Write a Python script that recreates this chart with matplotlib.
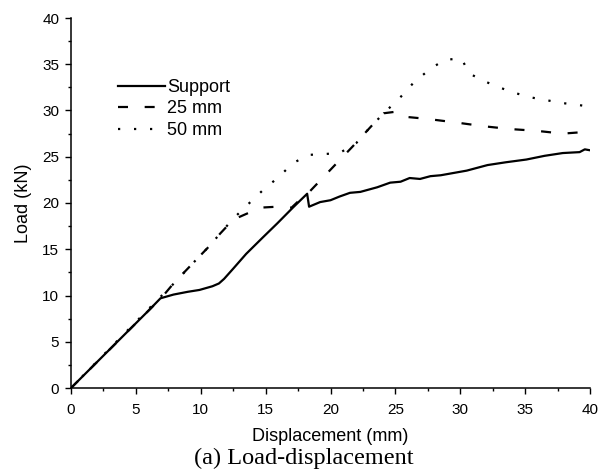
import numpy as np
import matplotlib
matplotlib.use("Agg")
import matplotlib.pyplot as plt
from matplotlib.ticker import MultipleLocator

# Load-displacement readings (mm, kN)
support_x = [0, 1, 2, 3, 4, 5, 6, 6.9, 7.9, 9.0, 9.9, 10.9, 11.4, 11.8, 12.5, 13.5,
             14.8, 15.9, 17.1, 18.2, 18.35, 19.2, 20.0, 20.7, 21.5, 22.3, 23.6, 24.6,
             25.4, 26.1, 26.9, 27.7, 28.5, 30.5, 32.1, 33.5, 35.1, 36.5, 37.9, 39.2,
             39.6, 40]
support_y = [0, 1.4, 2.8, 4.2, 5.6, 7.0, 8.4, 9.7, 10.1, 10.4, 10.6, 11.0, 11.3, 11.8,
             12.9, 14.5, 16.3, 17.8, 19.5, 21.0, 19.6, 20.1, 20.3, 20.7, 21.1, 21.2,
             21.7, 22.2, 22.3, 22.7, 22.6, 22.9, 23.0, 23.5, 24.1, 24.4, 24.7, 25.1,
             25.4, 25.5, 25.8, 25.7]

mm25_x = [0, 7.0, 7.9, 9.4, 10.5, 11.5, 12.5, 13.8, 14.6, 15.9, 17.0, 17.6, 18.3,
          20.0, 21.7, 23.6, 24.1, 25.2, 25.9, 27.4, 29.7, 31.8, 33.8, 35.9, 37.9,
          39.8, 40]
mm25_y = [0, 9.8, 11.3, 13.5, 15.1, 16.7, 18.2, 19.0, 19.5, 19.6, 19.5, 20.3, 21.1,
          23.6, 26.1, 29.0, 29.7, 29.9, 29.3, 29.1, 28.7, 28.3, 28.0, 27.8, 27.5,
          27.7, 27.8]

mm50_x = [0, 7.0, 8, 9.4, 10.5, 11.5, 12.5, 13.6, 14.8, 16.0, 17.1, 18.3, 19.6, 20.7,
          22.0, 23.0, 24.1, 25.3, 26.4, 27.6, 28.8, 30.1, 30.7, 31.8, 33.0, 34.2,
          35.5, 36.7, 37.9, 39.1, 40]
mm50_y = [0, 10.0, 11.4, 13.5, 15.1, 16.7, 18.3, 19.8, 21.4, 22.8, 24.3, 25.2, 25.3,
          25.4, 26.5, 28.1, 29.7, 31.3, 33.0, 34.4, 35.5, 35.6, 34.0, 33.2, 32.5,
          31.9, 31.4, 31.1, 30.8, 30.6, 30.4]

plt.rcParams['font.family'] = ['Liberation Sans', 'DejaVu Sans']

fig = plt.figure(figsize=(6.05, 4.73), dpi=100)
ax = fig.add_axes([71 / 605, 85 / 473, 519 / 605, 370 / 473])

ax.plot(support_x, support_y, color='black', lw=1.6, label='Support')
ax.plot(mm25_x, mm25_y, color='black', lw=1.6, linestyle=(0, (4.5, 7.5)), label='25 mm')
ax.plot(mm50_x, mm50_y, color='black', lw=1.6, linestyle=(0, (1, 6.2)), label='50 mm')

ax.set_xlim(0, 40)
ax.set_ylim(0, 40)
ax.xaxis.set_major_locator(MultipleLocator(5))
ax.xaxis.set_minor_locator(MultipleLocator(2.5))
ax.yaxis.set_major_locator(MultipleLocator(5))
ax.yaxis.set_minor_locator(MultipleLocator(2.5))
ax.tick_params(which='major', direction='out', length=4.5, width=1, labelsize=11, pad=4)
ax.tick_params(axis='x', which='major', pad=6.5)
ax.tick_params(which='minor', direction='out', length=2.5, width=1)
ax.spines['top'].set_visible(False)
ax.spines['right'].set_visible(False)
for s in ('left', 'bottom'):
    ax.spines[s].set_linewidth(1.1)

ax.set_xlabel('Displacement (mm)', fontsize=13, labelpad=8)
ax.set_ylabel('Load (kN)', fontsize=13, labelpad=7)

ax.legend(loc='upper left', bbox_to_anchor=(0.076, 0.855), frameon=False, fontsize=13,
          handlelength=2.6, handletextpad=0.15, labelspacing=0.25, borderaxespad=0)

fig.text(304 / 605, 1 - 458 / 473, '(a) Load-displacement', ha='center', va='center',
         fontsize=17.5, family=['Liberation Serif', 'DejaVu Serif'])

fig.savefig('out.png', dpi=100)
